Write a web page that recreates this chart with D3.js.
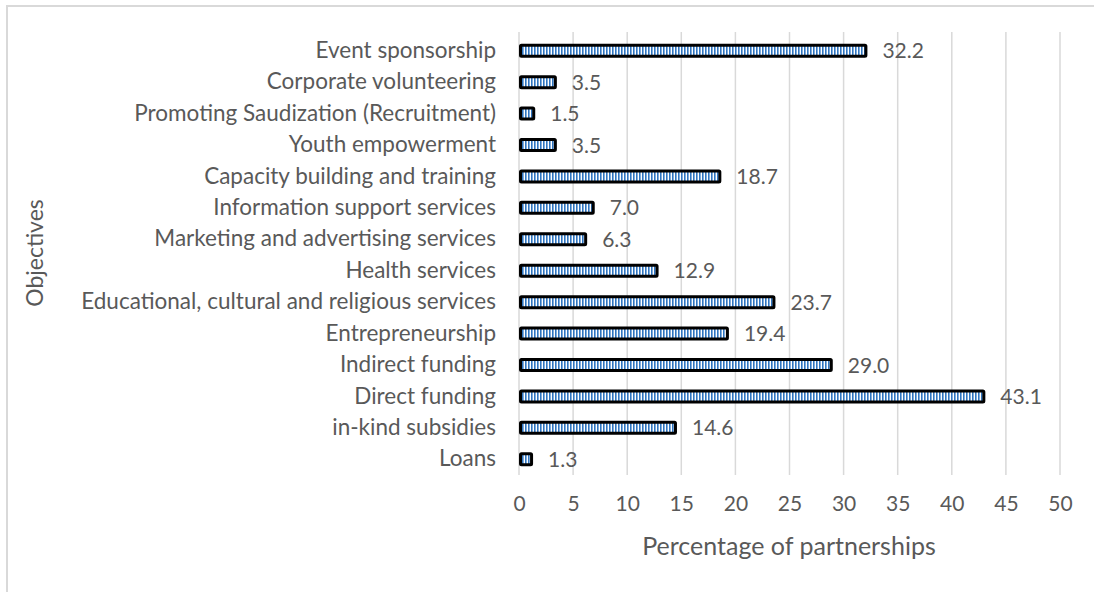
<!DOCTYPE html>
<html><head><meta charset="utf-8">
<script src="https://cdn.jsdelivr.net/npm/d3@7"></script>
<style>html,body{margin:0;padding:0;background:#fff;overflow:hidden}</style>
</head><body><svg id="c" width="1094" height="592"></svg>
<script>
const categories = ["Event sponsorship","Corporate volunteering","Promoting Saudization (Recruitment)","Youth empowerment","Capacity building and training","Information support services","Marketing and advertising services","Health services","Educational, cultural and religious services","Entrepreneurship","Indirect funding","Direct funding","in-kind subsidies","Loans"];
const values = [32.2,3.5,1.5,3.5,18.7,7.0,6.3,12.9,23.7,19.4,29.0,43.1,14.6,1.3];
const xTicks = [0,5,10,15,20,25,30,35,40,45,50];
const xTitle = "Percentage of partnerships";
const yTitle = "Objectives";

const svg = d3.select("#c");
const font = "Lato, sans-serif";
const grey = "#595959";

const defs = svg.append("defs");
const pat = defs.append("pattern").attr("id","stripe").attr("patternUnits","userSpaceOnUse")
  .attr("width",3).attr("height",10);
pat.append("rect").attr("width",3).attr("height",10).attr("fill","#ffffff");
pat.append("rect").attr("width",1.6).attr("height",10).attr("fill","#2f75c0");

// outer frame
svg.append("rect").attr("x",7).attr("y",6).attr("width",1100).attr("height",600)
  .attr("fill","none").attr("stroke","#d9d9d9").attr("stroke-width",2);

const x = d3.scaleLinear().domain([0,50]).range([519,1060]);
const y = d3.scaleBand().domain(categories).range([35,475]).paddingInner(0.55).paddingOuter(0.275);

// gridlines
svg.append("g").selectAll("line").data(xTicks).join("line")
  .attr("x1",d=>x(d)).attr("x2",d=>x(d)).attr("y1",32).attr("y2",475)
  .attr("stroke","#d9d9d9").attr("stroke-width",1.5);

// x axis ticks
const xa = svg.append("g").attr("transform","translate(0,475)")
  .call(d3.axisBottom(x).tickValues(xTicks).tickSize(0).tickPadding(21));
xa.select(".domain").remove();
xa.selectAll("text").attr("font-family",font).attr("font-size",21).attr("fill",grey);

// y axis labels
const ya = svg.append("g").attr("transform","translate(519,0)")
  .call(d3.axisLeft(y).tickSize(0).tickPadding(23));
ya.select(".domain").remove();
ya.selectAll("text").attr("font-family",font).attr("font-size",22.5).attr("fill",grey);

// bars
const bh = 11;
svg.append("g").selectAll("rect").data(values).join("rect")
  .attr("x",x(0)+1.5)
  .attr("y",(d,i)=>y(categories[i])+y.bandwidth()/2-bh/2)
  .attr("width",d=>x(d)-x(0)-3)
  .attr("height",bh)
  .attr("fill","url(#stripe)")
  .attr("stroke","#000").attr("stroke-width",3).attr("rx",1);

// value labels
svg.append("g").selectAll("text").data(values).join("text")
  .attr("x",d=>x(d)+15)
  .attr("y",(d,i)=>y(categories[i])+y.bandwidth()/2)
  .attr("dy","0.36em")
  .attr("font-family",font).attr("font-size",21).attr("fill",grey)
  .text(d=>d.toFixed(1));

// axis titles
svg.append("text").attr("x",789).attr("y",546).attr("dy","0.36em").attr("text-anchor","middle")
  .attr("font-family",font).attr("font-size",25).attr("fill",grey).text(xTitle);
svg.append("text").attr("transform","translate(35,253) rotate(-90)").attr("dy","0.36em").attr("text-anchor","middle")
  .attr("font-family",font).attr("font-size",23).attr("fill",grey).text(yTitle);
</script></body></html>
